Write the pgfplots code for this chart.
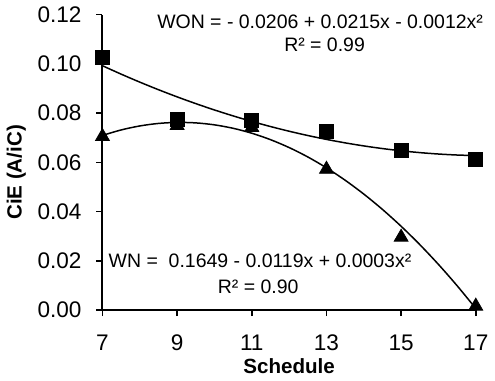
\documentclass[border=0pt]{standalone}
\usepackage{fontspec}
\setmainfont{Liberation Sans}
\usepackage{pgfplots}
\pgfplotsset{compat=1.18}
\begin{document}
\begin{tikzpicture}
\begin{axis}[
  scale only axis,
  width=187pt, height=148pt,
  xmin=7, xmax=17, ymin=0, ymax=0.12,
  axis x line=bottom, axis y line=left,
  axis line style={-, line width=1pt, black},
  xtick={7,9,11,13,15,17},
  ytick={0,0.02,0.04,0.06,0.08,0.10,0.12},
  tick align=outside,
  major tick length=3pt,
  tick style={line width=0.8pt, black},
  /pgf/number format/assume math mode=true,
  yticklabel style={/pgf/number format/fixed, /pgf/number format/fixed zerofill, /pgf/number format/precision=2, font=\fontsize{11.3}{12}\selectfont, xshift=-4pt},
  xticklabel style={font=\fontsize{11.3}{12}\selectfont, yshift=-6pt},
  scaled y ticks=false,
  xlabel={Schedule},
  ylabel={CiE (A/iC)},
  xlabel style={font=\fontsize{10.3}{12}\selectfont\bfseries, yshift=3pt},
  ylabel style={font=\fontsize{10.3}{12}\selectfont\bfseries, at={(ticklabel cs:0.466)}, yshift=-1pt},
  clip=false,
]
% trend line (squares)
\addplot[black, line width=0.75pt, no markers, smooth] coordinates {
(7,0.09925)(7.5,0.095839)(8,0.092594)(8.5,0.089517)(9,0.086606)(9.5,0.083863)(10,0.081286)(10.5,0.078877)(11,0.076634)(11.5,0.074559)(12,0.07265)(12.5,0.070909)(13,0.069334)(13.5,0.067927)(14,0.066686)(14.5,0.065613)(15,0.064706)(15.5,0.063967)(16,0.063394)(16.5,0.062989)(17,0.06275)};
% trend line (triangles)
\addplot[black, line width=0.75pt, no markers, smooth] coordinates {
(7,0.07095)(7.5,0.073173)(8,0.074796)(8.5,0.075815)(9,0.076229)(9.5,0.076039)(10,0.075244)(10.5,0.073845)(11,0.071841)(11.5,0.069233)(12,0.06602)(12.5,0.062203)(13,0.057781)(13.5,0.052755)(14,0.047124)(14.5,0.040889)(15,0.034049)(15.5,0.026605)(16,0.018556)(16.5,0.009903)(17,0.00065)};
% squares
\addplot[only marks, mark=square*, mark size=3.5pt, black, fill=black] coordinates {
(7,0.1026)(9,0.0773)(11,0.0771)(13,0.0726)(15,0.0649)(17,0.0613)};
% triangles
\addplot[only marks, mark=triangle*, mark size=4pt, black, fill=black] coordinates {
(7,0.0705)(9,0.0750)(11,0.0742)(13,0.0572)(15,0.0296)(17,0.0016)};
\node[font=\fontsize{9.75}{11.5}\selectfont] at (axis cs:12.83,0.1172) {WON = - 0.0206 + 0.0215x - 0.0012x²};
\node[font=\fontsize{9.75}{11.5}\selectfont] at (axis cs:12.95,0.1079) {R² = 0.99};
\node[font=\fontsize{9.75}{11.5}\selectfont] at (axis cs:11.22,0.0199) {WN =\ \ 0.1649 - 0.0119x + 0.0003x²};
\node[font=\fontsize{9.75}{11.5}\selectfont] at (axis cs:11.17,0.0093) {R² = 0.90};
\end{axis}
\end{tikzpicture}
\end{document}
